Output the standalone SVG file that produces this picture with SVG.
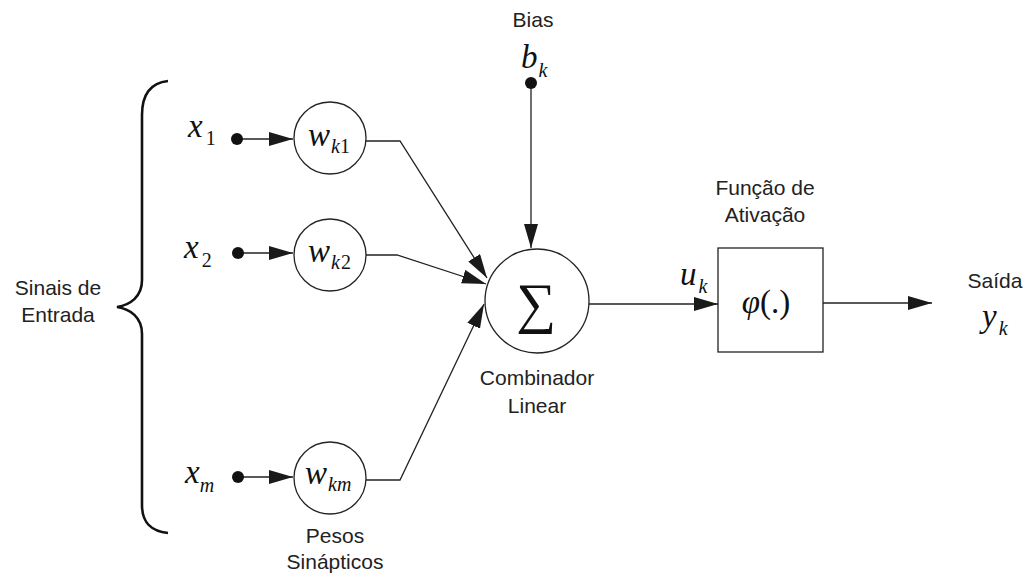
<svg xmlns="http://www.w3.org/2000/svg" width="1029" height="575" viewBox="0 0 1029 575">
<defs>
<marker id="arr" markerUnits="userSpaceOnUse" markerWidth="26" markerHeight="16" refX="24" refY="7" orient="auto">
<path d="M0,0 L24,7 L0,14 z" fill="#1a1a1a"/>
</marker>
<style>
.lbl{font-family:"Liberation Sans",Arial,sans-serif;font-size:21px;fill:#222;text-anchor:middle}
.m{font-family:"Liberation Serif","Times New Roman",serif;font-style:italic;fill:#111}
.big{font-size:33px}
.sub{font-size:20px}
.up{font-style:normal}
.ln{stroke:#222;stroke-width:1.3;fill:none}
.node{fill:#fff;stroke:#222;stroke-width:1.3}
.dot{fill:#111}
</style>
</defs>
<rect width="1029" height="575" fill="#fff"/>

<g id="brace">
<path d="M168,81 C150,83 142,95 142,115 L142,280 C142,297 130,305 117,307 C130,309 142,317 142,334 L142,505 C142,522 150,531 168,533" fill="none" stroke="#111" stroke-width="2.6"/>
</g>
<g id="label-entrada">
<text class="lbl" x="58" y="295">Sinais de</text>
<text class="lbl" x="58" y="322">Entrada</text>
</g>

<g id="connectors">
<line class="ln" x1="237" y1="139" x2="293" y2="139" marker-end="url(#arr)"/>
<line class="ln" x1="238" y1="253" x2="293" y2="253" marker-end="url(#arr)"/>
<line class="ln" x1="238" y1="477" x2="293" y2="477" marker-end="url(#arr)"/>
<polyline class="ln" points="366,141 400,141 487,278" marker-end="url(#arr)"/>
<polyline class="ln" points="366,255 397,255 486,284" marker-end="url(#arr)"/>
<polyline class="ln" points="366,480 400,480 484,304" marker-end="url(#arr)"/>
<line class="ln" x1="531" y1="83" x2="531" y2="248" marker-end="url(#arr)"/>
<line class="ln" x1="589" y1="304" x2="718" y2="304" marker-end="url(#arr)"/>
<line class="ln" x1="823" y1="303" x2="932" y2="303" marker-end="url(#arr)"/>
</g>

<g id="x1">
<circle class="dot" cx="237" cy="139" r="6"/>
<text class="m big" x="188" y="137">x<tspan class="sub up" dx="3" dy="8">1</tspan></text>
</g>
<g id="x2">
<circle class="dot" cx="238" cy="253" r="6"/>
<text class="m big" x="184" y="258">x<tspan class="sub up" dx="3" dy="9">2</tspan></text>
</g>
<g id="xm">
<circle class="dot" cx="238" cy="477" r="6"/>
<text class="m big" x="185" y="483">x<tspan class="sub" dx="0" dy="9">m</tspan></text>
</g>

<g id="wk1">
<circle class="node" cx="330" cy="138" r="36"/>
<text class="m big" x="308" y="146">w<tspan class="sub" dx="1" dy="7">k</tspan><tspan class="sub up">1</tspan></text>
</g>
<g id="wk2">
<circle class="node" cx="330" cy="255" r="36"/>
<text class="m big" x="308" y="262">w<tspan class="sub" dx="1" dy="7">k</tspan><tspan class="sub up" dx="1">2</tspan></text>
</g>
<g id="wkm">
<circle class="node" cx="330" cy="478" r="36"/>
<text class="m big" x="305" y="484">w<tspan class="sub" dx="1" dy="7">km</tspan></text>
</g>
<g id="label-pesos">
<text class="lbl" x="335" y="543">Pesos</text>
<text class="lbl" x="335" y="569">Sinápticos</text>
</g>

<g id="bias">
<text class="lbl" x="533" y="27">Bias</text>
<circle class="dot" cx="531" cy="83" r="6"/>
<text class="m big" x="521" y="68">b<tspan class="sub" dx="1" dy="9">k</tspan></text>
</g>

<g id="sum">
<circle class="node" cx="537" cy="301" r="52"/>
<text x="536" y="322" font-family="'Liberation Serif','Times New Roman',serif" font-size="56" text-anchor="middle" fill="#111">∑</text>
<text class="lbl" x="537" y="385">Combinador</text>
<text class="lbl" x="537" y="413">Linear</text>
</g>

<g id="uk">
<text class="m big" x="680" y="285">u<tspan class="sub" dx="2" dy="8">k</tspan></text>
</g>

<g id="activation">
<text class="lbl" x="765" y="195">Função de</text>
<text class="lbl" x="765" y="222">Ativação</text>
<rect class="node" x="718" y="248" width="105" height="104"/>
<text x="766" y="313" font-family="'Liberation Serif','Times New Roman',serif" font-size="33" text-anchor="middle" fill="#111"><tspan font-style="italic">φ</tspan>(.)</text>
</g>

<g id="output">
<text class="lbl" x="995" y="288">Saída</text>
<text class="m big" x="982" y="327">y<tspan class="sub" dx="2" dy="8">k</tspan></text>
</g>
</svg>
